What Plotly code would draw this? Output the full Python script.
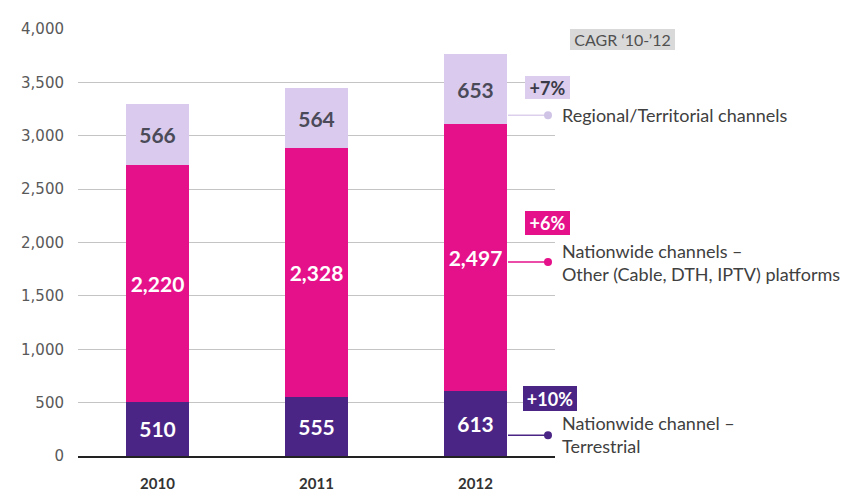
import plotly.graph_objects as go

years = ["2010", "2011", "2012"]
terrestrial = [510, 555, 613]
other_platforms = [2220, 2328, 2497]
regional = [566, 564, 653]
y_ticks = [0, 500, 1000, 1500, 2000, 2500, 3000, 3500, 4000]
cagr_labels = ["+10%", "+6%", "+7%"]
series_names = ["Nationwide channel –<br>Terrestrial",
                "Nationwide channels –<br>Other (Cable, DTH, IPTV) platforms",
                "Regional/Territorial channels"]

C_DARK = "#4B2585"
C_MAG = "#E5118A"
C_LIGHT = "#DACBEE"
C_TEXT = "#404040"

fig = go.Figure()
fig.add_trace(go.Bar(x=years, y=terrestrial, marker_color=C_DARK, width=0.4,
                     texttemplate="%{y:,}", textposition="inside", insidetextanchor="middle",
                     textangle=0, textfont=dict(family="Lato", size=21, color="white", weight="bold"),
                     marker_line_width=0, name="Terrestrial"))
fig.add_trace(go.Bar(x=years, y=other_platforms, marker_color=C_MAG, width=0.4,
                     texttemplate="%{y:,}", textposition="inside", insidetextanchor="middle",
                     textangle=0, textfont=dict(family="Lato", size=21, color="white", weight="bold"),
                     marker_line_width=0, name="Other"))
fig.add_trace(go.Bar(x=years, y=regional, marker_color=C_LIGHT, width=0.4,
                     texttemplate="%{y:,}", textposition="inside", insidetextanchor="middle",
                     textangle=0, textfont=dict(family="Lato", size=21, color="#4a4a58", weight="bold"),
                     marker_line_width=0, name="Regional"))

fig.update_layout(
    barmode="stack",
    width=850, height=496,
    margin=dict(l=70, r=303, t=17, b=33),
    paper_bgcolor="white", plot_bgcolor="white",
    showlegend=False,
    font=dict(family="Lato", color=C_TEXT),
)
fig.update_yaxes(range=[0, 4000], tickvals=y_ticks, tickformat=",",
                 showgrid=True, gridcolor="#c4c4c4", gridwidth=1,
                 zeroline=False, showline=False,
                 tickfont=dict(family="DejaVu Sans", size=15, color="#595959"),
                 ticklabelstandoff=13)
fig.update_xaxes(range=[-0.5, 2.5], showline=True, linecolor="#222222", linewidth=1.5,
                 tickfont=dict(family="Lato", size=15, color="#333333", weight="bold"),
                 ticks="", ticklabelstandoff=13)

# connector lines and dots (y in data units, x in paper units)
bar_edge = (500 - 70) / 477
dot_x = (540 - 70) / 477
text_x = (552 - 70) / 477
conn = [(195, C_DARK, C_DARK), (1818, C_MAG, C_MAG), (3193, "#DCCFEE", "#D0C4E6")]
for yv, lc, dc in conn:
    fig.add_shape(type="line", xref="paper", yref="y", x0=bar_edge, x1=dot_x, y0=yv, y1=yv,
                  line=dict(color=lc, width=1.5))
    fig.add_shape(type="circle", xref="paper", yref="y", xsizemode="pixel", ysizemode="pixel",
                  xanchor=dot_x, yanchor=yv, x0=-4, x1=4, y0=-4, y1=4,
                  fillcolor=dc, line=dict(width=0))

# series labels
label_y = [205, 1810, 3193]
for name, yv in zip(series_names, label_y):
    fig.add_annotation(xref="paper", yref="y", x=text_x, y=yv, text=name, showarrow=False,
                       xanchor="left", yanchor="middle", align="left",
                       font=dict(family="Lato", size=18, color=C_TEXT))

# CAGR boxes
boxes = [(cagr_labels[0], 542, 540, 54, 25, C_DARK, "white"),
         (cagr_labels[1], 539.5, 2179, 45, 24, C_MAG, "white"),
         (cagr_labels[2], 539.5, 3449, 45, 23, "#DCCDEE", "#3a3a48")]
for txt, px, yv, w, h, bg, fc in boxes:
    fig.add_annotation(xref="paper", yref="y", x=(px - 70) / 477, y=yv, text="<b>" + txt + "</b>",
                       showarrow=False, xanchor="center", yanchor="middle",
                       width=w, height=h, bgcolor=bg, borderpad=0, borderwidth=0,
                       font=dict(family="Lato", size=18, color=fc))

fig.add_annotation(xref="paper", yref="y", x=(614.5 - 70) / 477, y=3903, text="CAGR ‘10-’12",
                   showarrow=False, xanchor="center", yanchor="middle", width=105, height=21,
                   bgcolor="#D9D9D9", borderpad=0, borderwidth=0,
                   font=dict(family="Lato", size=16, color="#505050"))

fig.write_html("out.html")
